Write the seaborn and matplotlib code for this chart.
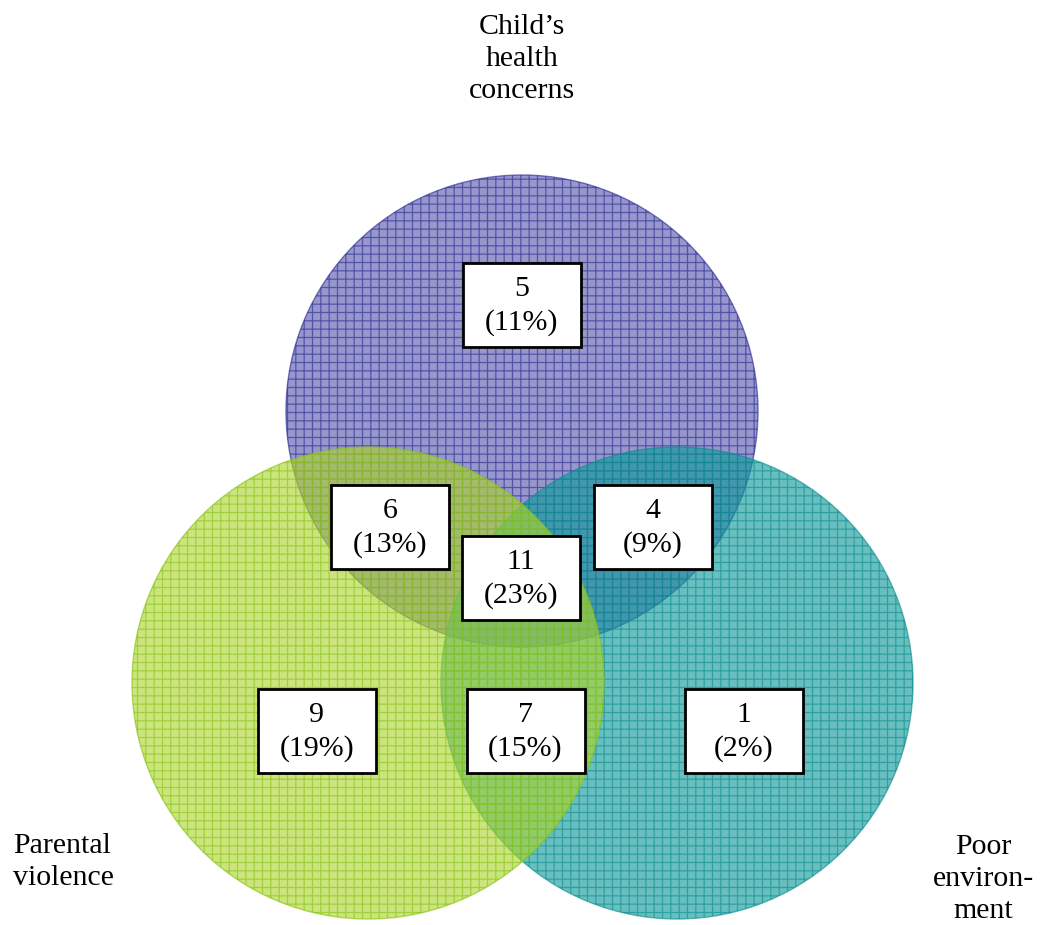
import numpy as np
import seaborn as sns
import matplotlib.pyplot as plt
from matplotlib.patches import Circle, Rectangle

# set names and region values
sets = ["Child\u2019s\nhealth\nconcerns", "Parental\nviolence", "Poor\nenviron-\nment"]
regions = ["C only", "C+P", "C+E", "C+P+E", "P only", "P+E", "E only"]
counts = [5, 6, 4, 11, 9, 7, 1]
percents = [11, 13, 9, 23, 19, 15, 2]

sns.set_theme(style="white")
plt.rcParams["font.family"] = ["Liberation Serif", "DejaVu Serif"]
plt.rcParams["text.color"] = "black"
plt.rcParams["hatch.linewidth"] = 0.9

fig = plt.figure(figsize=(10.41, 9.25), dpi=100)
ax = fig.add_axes([0, 0, 1, 1])
ax.set_xlim(0, 1041)
ax.set_ylim(925, 0)
ax.set_aspect("equal")
ax.axis("off")

# layout: circle centres and radius (pixel space)
r = 236
centres = {"C": (522, 411), "P": (368, 683), "E": (677, 683)}
fills = {"C": (0.34, 0.34, 0.68), "P": (0.68, 0.83, 0.18), "E": (0.05, 0.60, 0.60)}
edges = {"C": "#2a2a96", "P": "#86c414", "E": "#0c8e8e"}

for key in ["C", "E", "P"]:
    circ = Circle(centres[key], r, facecolor=fills[key], edgecolor=edges[key],
                  hatch="++", lw=1.0, alpha=0.62, zorder=1)
    ax.add_patch(circ)

# region label positions from circle geometry
cx, cy = np.array(centres["C"]), np.array(centres["P"])
ex = np.array(centres["E"])
pos = [
    (cx[0], cx[1] - 106),
    (cy[0] + 22, cx[1] + 116),
    (ex[0] - 24, cx[1] + 116),
    (cx[0] - 1, cx[1] + 167),
    (cy[0] - 51, cy[1] + 48),
    ((cy[0] + ex[0]) / 2 + 3, cy[1] + 48),
    (ex[0] + 67, cy[1] + 48),
]
bw, bh = 118, 84
fs = 21.5
for (x, y), n, p in zip(pos, counts, percents):
    ax.add_patch(Rectangle((x - bw / 2, y - bh / 2), bw, bh, facecolor="white",
                           edgecolor="black", lw=2, zorder=3))
    ax.text(x, y + 1, f"{n}\n({p}%)", ha="center", va="center", fontsize=fs,
            linespacing=1.3, zorder=4)

ax.text(522, 59, sets[0], ha="center", va="center", fontsize=fs, linespacing=1.3)
ax.text(13, 862, sets[1], ha="left", va="center", fontsize=fs, linespacing=1.3)
ax.text(983, 879, sets[2], ha="center", va="center", fontsize=fs, linespacing=1.3)

fig.savefig("out.png", dpi=100, facecolor="white")
